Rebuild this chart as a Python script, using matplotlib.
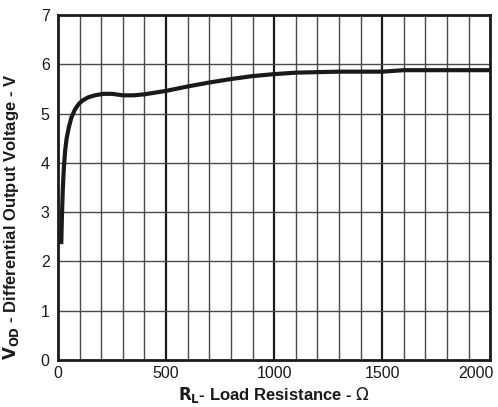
import matplotlib
matplotlib.use("Agg")
import matplotlib.pyplot as plt
from matplotlib.transforms import ScaledTranslation

plt.rcParams['font.family'] = ['Liberation Sans', 'DejaVu Sans']

# load resistance (ohm) and differential output voltage (V)
r_load = [15, 18, 22, 27, 33, 40, 50, 62, 78, 95, 115, 140, 170, 210, 250, 300,
          350, 400, 500, 600, 700, 800, 900, 1000, 1100, 1200, 1300, 1400, 1500,
          1600, 1700, 1800, 1900, 2000]
v_od = [2.35, 2.9, 3.45, 3.9, 4.25, 4.5, 4.72, 4.92, 5.08, 5.19, 5.27, 5.33, 5.37,
        5.4, 5.4, 5.37, 5.37, 5.39, 5.46, 5.55, 5.63, 5.7, 5.76, 5.8, 5.83, 5.84,
        5.85, 5.85, 5.85, 5.88, 5.88, 5.88, 5.88, 5.88]

x_ticks = [0, 500, 1000, 1500, 2000]
y_ticks = [0, 1, 2, 3, 4, 5, 6, 7]

fig = plt.figure(figsize=(4.98, 4.07), dpi=100)
ax = fig.add_axes([0.1165, 0.1155, 0.868, 0.8477])

# grid: thin every 100 ohm, heavier at 500 steps
for x in range(100, 2000, 100):
    heavy = x % 500 == 0
    ax.axvline(x, color='#1a1a1a' if heavy else '#4a4a4a',
               lw=1.6 if heavy else 1.0, zorder=1)
for y in range(1, 7):
    ax.axhline(y, color='#4a4a4a', lw=1.0, zorder=1)

ax.plot(r_load, v_od, color='#1a1a1a', lw=3.0, solid_capstyle='butt', zorder=3)

ax.set_xlim(0, 2000)
ax.set_ylim(0, 7)
ax.set_xticks(x_ticks)
ax.set_yticks(y_ticks)
ax.tick_params(length=0, labelsize=11.5, colors='#1a1a1a')
ax.tick_params(axis='x', pad=4)
ax.tick_params(axis='y', pad=6)
for s in ax.spines.values():
    s.set_linewidth(2.0)
    s.set_color('#1a1a1a')

# last x label sits inside the figure edge
last = ax.get_xticklabels()[-1]
last.set_horizontalalignment('right')
last.set_transform(last.get_transform() + ScaledTranslation(3 / 100, 0, fig.dpi_scale_trans))

ax.set_xlabel(r'$\mathbf{R_L}$' + '- Load Resistance - ' + r'$\Omega$',
              fontsize=12, fontweight='bold', labelpad=3, color='#1a1a1a')
ax.set_ylabel(r'$\mathbf{V_{OD}}$' + ' - Differential Output Voltage - V',
              fontsize=12, fontweight='bold', labelpad=6, color='#1a1a1a')
ax.yaxis.set_label_coords(-0.085, 0.415)

fig.savefig('out.png', dpi=100)
